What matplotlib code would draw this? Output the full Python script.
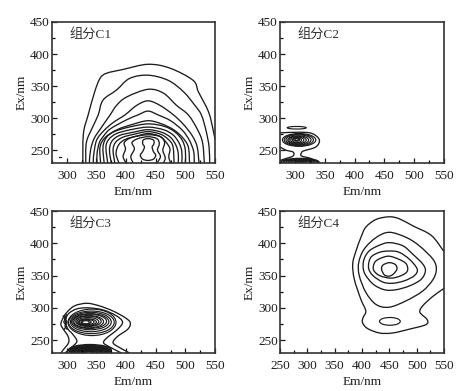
import matplotlib
matplotlib.use('Agg')
import matplotlib.pyplot as plt
from matplotlib.patches import Ellipse, PathPatch
from matplotlib.path import Path
from matplotlib.ticker import MultipleLocator

plt.rcParams['font.family'] = ['Liberation Serif', 'Noto Sans CJK SC']

# contour lines, (Em, Ex) in nm
c1_lines = [
    [(327,230),(328,276),(336,305),(347,341),(356,362),(367,370),(395,376),(437,384),(474,378),(513,359),(522,341),(539,310),(547,281),(550,266)],
    [(332,230),(333,262),(343,285),(353,305),(361,328),(384,344),(406,362),(437,367),(471,359),(497,341),(516,320),(527,305),(535,280),(540,255),(541,230)],
    [(338,230),(340,250),(346,268),(358,285),(373,305),(384,320),(401,333),(437,345),(463,339),(485,320),(505,305),(520,283),(529,262),(532,230)],
    [(345,230),(345,240),(350,265),(362,280),(378,293),(398,305),(418,320),(437,327),(457,320),(480,305),(497,290),(512,272),(520,255),(523,230)],
    [(351,230),(351,245),(355,262),(362,272),(373,283),(400,297),(420,305),(437,311),(454,305),(475,296),(495,281),(507,265),(514,248),(515,230)],
    [(357,230),(356,255),(365,270),(385,282),(410,290),(437,296),(460,291),(480,282),(495,270),(505,255),(507,230)],
    [(363,230),(361,255),(367,270),(380,279),(405,286),(437,291),(465,287),(483,278),(495,265),(500,250),(500,230)],
    [(369,230),(366,255),(371,267),(384,276),(408,282),(437,286),(463,282),(479,274),(489,262),(494,248),(494,230)],
    [(375,230),(372,250),(376,264),(389,273),(412,278),(437,282),(460,278),(475,270),(484,258),(488,245),(488,230)],
    [(381,230),(378,250),(382,262),(394,270),(414,275),(437,279),(458,275),(471,267),(479,256),(481,230)],
    [(388,230),(383,245),(388,259),(399,267),(418,272),(437,276),(456,272),(467,263),(474,252),(472,240),(475,230)],
    [(400,230),(395,240),(399,252),(397,262),(410,270),(437,274),(458,271),(465,262),(462,250),(466,238),(463,230)],
    [(412,230),(408,240),(414,252),(410,262),(420,268),(437,271),(452,268),(456,260),(453,250),(458,240),(452,230)],
    [(437,268),(446,266),(447,260),(444,255),(446,248),(450,242),(446,236),(437,234),(428,236),(424,242),(428,248),(431,255),(428,260),(429,266),(437,268)],
]
c1_dot = [(286,240),(290,240)]

c2_lines = [
    [(275,277),(307,278),(329,276),(341,266),(335,255),(315,249),(311,246),(311,241),(327,237),(343,230)],
    [(275,255),(285,250),(297,247),(297,241),(285,237),(275,234)],
]
c2_left = [279,282,285,288,290,293,296,298,300]
c2_right = [335,331,327,323,319,315,311,308,306]
c2_top = [276,275,274,272.5,271.5,270.5,269.5,269,268]
c2_bottom = [256,257,258,259,260,261,262,264,265]
c2_arch_left = [277,281,285,289,293,297,301,305,308]
c2_arch_right = [340,337,333,329,325,321,317,314,311]
c2_arch_top = [237,236.5,236,235.5,235,234,233,232,231]
c2_cap = (287,319,287,283)

c3_lines = [
    [(290,230),(294,235),(303,246),(302,256),(294,267),(290,274),(292,281),(299,292),(313,303),(334,307),(355,303),(378,295),(398,285),(407,277),(403,267),(386,256),(378,247),(384,241),(406,230)],
    [(297,230),(307,238),(317,248),(310,259),(302,267),(298,278),(302,290),(316,298),(334,300),(360,297),(383,288),(394,278),(386,267),(367,253),(362,246),(369,241),(392,230)],
    [(293,288),(298,283),(295,278),(299,272),(295,266)],
    [(300,290),(296,283),(300,278),(297,272),(301,266)],
]
c3_left = [302,303,306,308,310,312,315,317,319,321,324,326]
c3_right = [383,380,375,371,367,362,358,354,350,346,341,338]
c3_top = [298,295,293,291,290,288,287,285,283,282,281,280]
c3_bottom = [257,260,263,266,268,269,271,272,273,274,275,275]
c3_arch_left = [303,305,307,309,311,313,315,317,319,321,323,325,328,331]
c3_arch_right = [375,373,371,369,367,365,363,361,359,357,355,352,348,344]
c3_arch_top = [243,241.5,240.5,239.5,239,238.5,238,237,236.5,236,235,234,233,232]

c4_lines = [
    [(550,387),(527,412),(493,427),(468,438),(450,441),(426,437),(407,425),(398,409),(389,388),(383,368),(386,344),(398,313),(407,295),(402,285),(401,277),(410,268),(432,261),(456,261),(487,267),(517,274),(519,282),(506,293),(511,303),(530,318),(550,330)],
    [(450,417),(481,409),(505,396),(530,375),(536,360),(530,344),(511,326),(481,311),(450,301),(426,305),(407,324),(395,350),(394,370),(404,391),(426,409),(450,417)],
    [(450,401),(475,396),(493,383),(511,368),(516,357),(508,344),(487,334),(462,328),(441,328),(420,337),(404,355),(403,373),(413,388),(432,397),(450,401)],
    [(450,388),(468,386),(487,375),(501,360),(496,350),(478,342),(456,338),(438,340),(420,350),(412,362),(416,378),(432,386),(450,388)],
    [(449,380),(468,375),(481,368),(483,357),(472,350),(453,346),(432,350),(421,359),(423,370),(432,376),(449,380)],
    [(450,370),(461,367),(464,360),(457,352),(449,349),(441,351),(436,359),(438,366),(450,370)],
]
c4_cap = (432,470,285,273)

titles = ['组分C1', '组分C2', '组分C3', '组分C4']
ax_boxes = [(52,22,163,141), (280,22,164,141), (52,211,163,142), (280,211,164,142)]
W, H = 472, 391
ink = '#1c1c1c'

fig = plt.figure(figsize=(W/100, H/100), dpi=100, facecolor='white')


def ring(ax, left, right, top, bottom, lw=0.85):
    ax.add_patch(Ellipse(((left+right)/2, (top+bottom)/2), right-left, top-bottom,
                         fill=False, ec=ink, lw=lw))


# smooth curve through the read points (catmull-rom handles on a bezier path)
def curve(ax, pts):
    closed = pts[0] == pts[-1]
    n = len(pts)
    verts = [pts[0]]
    codes = [Path.MOVETO]
    for k in range(n-1):
        p0 = pts[k-1] if k > 0 else (pts[-2] if closed else pts[0])
        p1 = pts[k]
        p2 = pts[k+1]
        p3 = pts[k+2] if k+2 < n else (pts[1] if closed else pts[-1])
        verts.append((p1[0]+(p2[0]-p0[0])/6, p1[1]+(p2[1]-p0[1])/6))
        verts.append((p2[0]-(p3[0]-p1[0])/6, p2[1]-(p3[1]-p1[1])/6))
        verts.append(p2)
        codes += [Path.CURVE4]*3
    ax.add_patch(PathPatch(Path(verts, codes), fill=False, ec=ink, lw=0.95))


axes = []
for i, (l, t, w, h) in enumerate(ax_boxes):
    ax = fig.add_axes([l/W, 1-(t+h)/H, w/W, h/H])
    ax.set_xlim(250 if i == 3 else 275, 550)
    ax.set_ylim(230, 450)
    ax.xaxis.set_major_locator(MultipleLocator(50))
    ax.xaxis.set_minor_locator(MultipleLocator(25))
    ax.yaxis.set_major_locator(MultipleLocator(50))
    ax.yaxis.set_minor_locator(MultipleLocator(25))
    ax.tick_params(which='major', direction='in', length=3.6, width=0.9, labelsize=9.5, colors=ink)
    ax.tick_params(axis='x', which='major', pad=5)
    ax.tick_params(axis='y', which='major', pad=1.5)
    ax.tick_params(which='minor', direction='in', length=2, width=0.9)
    for s in ax.spines.values():
        s.set_linewidth(1.2)
        s.set_color('#333333')
    ax.set_xlabel('Em/nm', fontsize=9.5, color=ink)
    ax.set_ylabel('Ex/nm', fontsize=9.5, color=ink)
    ax.xaxis.set_label_coords(0.5, -0.16)
    ax.yaxis.set_label_coords(-0.15, 0.5)
    ax.text(0.105, 0.915, titles[i], transform=ax.transAxes, fontsize=9.5, va='center', color='#333333')
    axes.append(ax)

for lines, ax in zip([c1_lines, c2_lines, c3_lines, c4_lines], axes):
    for pts in lines:
        curve(ax, pts)

axes[0].plot([p[0] for p in c1_dot], [p[1] for p in c1_dot], color=ink, lw=0.9)

for j in range(len(c2_left)):
    ring(axes[1], c2_left[j], c2_right[j], c2_top[j], c2_bottom[j])
for j in range(len(c2_arch_left)):
    ring(axes[1], c2_arch_left[j], c2_arch_right[j], c2_arch_top[j], 226, lw=1.1)
ring(axes[1], *c2_cap)

for j in range(len(c3_left)):
    ring(axes[2], c3_left[j], c3_right[j], c3_top[j], c3_bottom[j])
for j in range(len(c3_arch_left)):
    ring(axes[2], c3_arch_left[j], c3_arch_right[j], c3_arch_top[j], 226, lw=1.1)

ring(axes[3], *c4_cap)

fig.savefig('out.png', dpi=100)
